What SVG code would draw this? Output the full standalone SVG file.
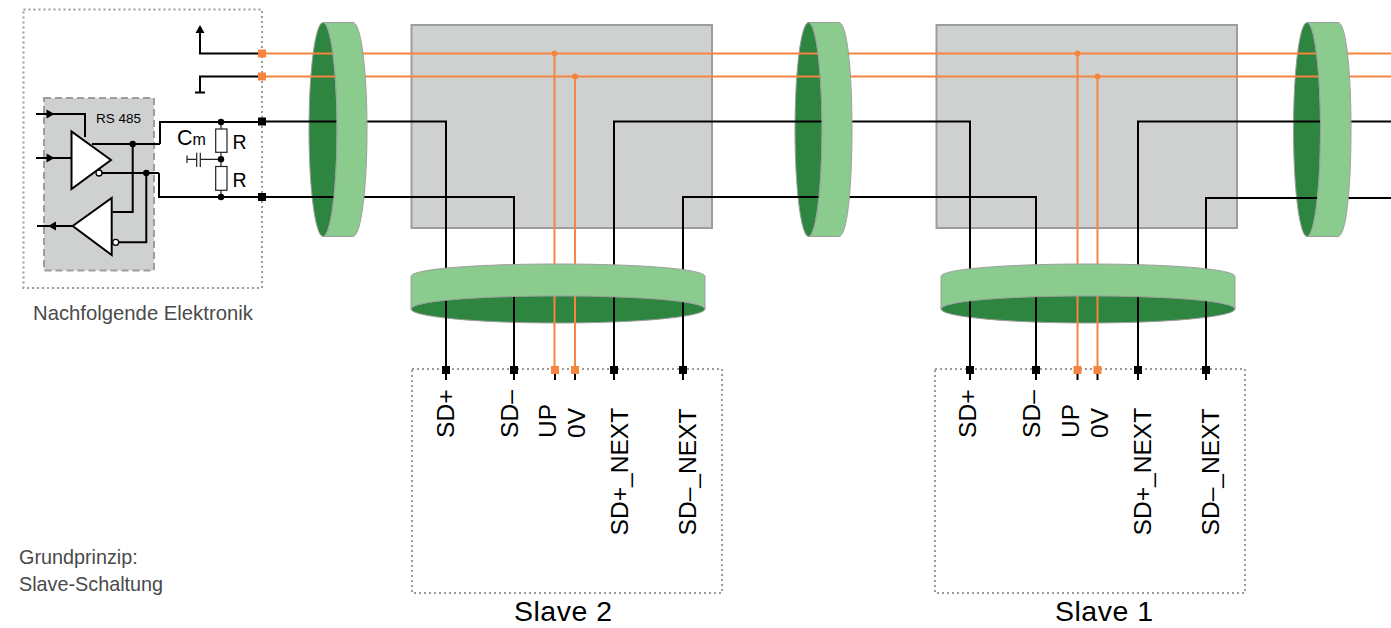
<svg xmlns="http://www.w3.org/2000/svg" width="1391" height="628" viewBox="0 0 1391 628">
<style>
text{font-family:"Liberation Sans",Arial,sans-serif;fill:#000}
.cap{font-size:20.300px;fill:#4a4a4a}
.cap2{font-size:19.800px;fill:#4a4a4a}
.pin{font-size:24.600px}
.title{font-size:28.500px;letter-spacing:.5px}
.dot{fill:none;stroke:#9b9b9b;stroke-width:2;stroke-dasharray:2 3}
.grey{fill:#cfd1d0;stroke:#9c9e9d;stroke-width:2}
.dark{fill:#2d853f;stroke:#9c9e9d;stroke-width:1}
.light{fill:#8ccb8e;stroke:#9c9e9d;stroke-width:1}
.k{fill:none;stroke:#000;stroke-width:2}
.o{fill:none;stroke:#f5853f;stroke-width:2}
.tri{fill:#fff;stroke:#000;stroke-width:2}
.bub{fill:#fff;stroke:#000;stroke-width:1.300}
.fine{fill:none;stroke:#222;stroke-width:1.200}
.res{fill:#fff;stroke:#222;stroke-width:1.200}
.sqk{fill:#000}
.sqo{fill:#f5853f}
</style>
<defs>
<rect id="sk" x="-4" y="-4" width="8" height="8" class="sqk"/>
<rect id="so" x="-4" y="-4" width="8" height="8" class="sqo"/>
<path id="ah-r" d="M-4-4.500L4 0L-4 4.500Z" fill="#000"/>
</defs>

<g id="backplanes">
<rect class="grey" x="411.500" y="25" width="300.500" height="203"/>
<rect class="grey" x="936.500" y="25" width="300.500" height="203"/>
</g>
<g id="cable-backs">
<ellipse class="dark" cx="323" cy="129.500" rx="14" ry="107"/>
<ellipse class="dark" cx="808.500" cy="129.500" rx="13.500" ry="107"/>
<ellipse class="dark" cx="1307" cy="129.500" rx="13.500" ry="107"/>
<ellipse class="dark" cx="558" cy="309" rx="147" ry="14"/>
<ellipse class="dark" cx="1088" cy="309" rx="147" ry="14"/>
</g>

<g id="connectors">
<path class="o" d="M262 53.500H1391M262 76.500H1391"/>
<path class="o" d="M554.500 53.500V370M575 76.500V370M1077.500 53.500V370M1097.500 76.500V370"/>
<path class="k" d="M262 121.500H446V380M160 144V122H262"/>
<path class="k" d="M159 173V197H514V380"/>
<path class="k" d="M614 380V121.500H970V380"/>
<path class="k" d="M683 380V197H1036V380"/>
<path class="k" d="M1138 380V121.500H1391"/>
<path class="k" d="M1206 380V198H1391"/>
<path class="k" d="M555 370V380M575 370V380M1077.500 370V380M1097.500 370V380"/>
<path class="k" d="M262 53.500H200V30M262 76.500H200V92M195 92.500H205"/>
<path d="M200 25L204.500 33H195.500Z" fill="#000"/>
<circle class="sqo" cx="554.500" cy="53.500" r="3"/><circle class="sqo" cx="575" cy="76.500" r="3"/>
<circle class="sqo" cx="1077.500" cy="53.500" r="3"/><circle class="sqo" cx="1097.500" cy="76.500" r="3"/>
</g>

<g id="cable-fronts">
<path class="light" d="M323 22.500H353C361 22.500 367 70 367 129.500S361 236.500 353 236.500H323C331 236.500 337 189 337 129.500S331 22.500 323 22.500Z"/>
<path class="light" d="M808.500 22.500H839C847 22.500 852 70 852 129.500S847 236.500 839 236.500H808.500C816 236.500 822 189 822 129.500S816 22.500 808.500 22.500Z"/>
<path class="light" d="M1307 22.500H1338C1346 22.500 1351 70 1351 129.500S1346 236.500 1338 236.500H1307C1314.500 236.500 1320.500 189 1320.500 129.500S1314.500 22.500 1307 22.500Z"/>
<path class="light" d="M411 276.500C411 269 477 264 558 264S705 269 705 276.500V309C705 301 639 296 558 296S411 301 411 309Z"/>
<path class="light" d="M941 276.500C941 269 1007 264 1088 264S1235 269 1235 276.500V309C1235 301 1169 296 1088 296S941 301 941 309Z"/>
</g>

<g id="elektronik">
<rect class="dot" x="23.500" y="9.500" width="238.500" height="278.500"/>
<rect x="44" y="98" width="110" height="172.500" fill="#cfd1d0" stroke="#9c9e9d" stroke-width="2" stroke-dasharray="7 4"/>
<text x="96" y="123" font-size="13.500" fill="#222">RS 485</text>
<path class="k" d="M36 114H85V137M36 158H72M72 226H37"/>
<use href="#ah-r" transform="translate(50.500 114)"/>
<use href="#ah-r" transform="translate(50.500 158)"/>
<use href="#ah-r" transform="translate(52 226) rotate(180)"/>
<path class="tri" d="M71.500 131.500V189L111 160Z"/>
<path class="tri" d="M111.700 198V255L72.700 226Z"/>
<path class="k" d="M92 144H160M132.700 144V212H112.500M102 173H159M146.300 173V242.300H119"/>
<circle class="bub" cx="99" cy="173" r="3"/>
<circle class="bub" cx="115.700" cy="242.300" r="3"/>
<circle cx="132.700" cy="144" r="3.200"/><circle cx="146.300" cy="173" r="3.200"/>
<path class="fine" d="M221 122V197M221 159.300H200.300M196.700 159.300H187"/>
<path class="fine" d="M196.700 152.700V167M200.300 152.700V167M187 155.500V163"/>
<rect class="res" x="215.700" y="129" width="11.300" height="23.300"/>
<rect class="res" x="215.700" y="166.500" width="11.300" height="23.800"/>
<circle cx="221" cy="122" r="3.200"/><circle cx="221" cy="159.300" r="3.200"/><circle cx="221" cy="197" r="3.200"/>
<text x="177" y="144.500" font-size="21.500" fill="#222">C<tspan font-size="16">m</tspan></text>
<text x="232.500" y="149" font-size="19.500" fill="#222">R</text>
<text x="232.500" y="186.500" font-size="19.500" fill="#222">R</text>
<use href="#so" x="262" y="53.500"/><use href="#so" x="262" y="76.500"/>
<use href="#sk" x="262" y="121.500"/><use href="#sk" x="262" y="197"/>
<text class="cap" x="33" y="320">Nachfolgende Elektronik</text>
</g>

<g id="slave-2">
<rect class="dot" x="412" y="369" width="310" height="224"/>
<use href="#sk" x="446" y="370"/><use href="#sk" x="514" y="370"/><use href="#so" x="555" y="370"/><use href="#so" x="575" y="370"/><use href="#sk" x="614" y="370"/><use href="#sk" x="683" y="370"/>
<text class="pin" transform="translate(453.500 438) rotate(-90)">SD+</text>
<text class="pin" transform="translate(518 438) rotate(-90)">SD–</text>
<text class="pin" transform="translate(556 438) rotate(-90)">UP</text>
<text class="pin" transform="translate(585 438) rotate(-90)">0V</text>
<text class="pin" transform="translate(628 535.500) rotate(-90)">SD+_NEXT</text>
<text class="pin" transform="translate(695.500 535.500) rotate(-90)">SD–_NEXT</text>
<text class="title" x="514" y="621">Slave 2</text>
</g>

<g id="slave-1">
<rect class="dot" x="935" y="369" width="310" height="224"/>
<use href="#sk" x="970" y="370"/><use href="#sk" x="1036" y="370"/><use href="#so" x="1077.500" y="370"/><use href="#so" x="1097.500" y="370"/><use href="#sk" x="1138" y="370"/><use href="#sk" x="1206" y="370"/>
<text class="pin" transform="translate(975.500 438) rotate(-90)">SD+</text>
<text class="pin" transform="translate(1040 438) rotate(-90)">SD–</text>
<text class="pin" transform="translate(1079 438) rotate(-90)">UP</text>
<text class="pin" transform="translate(1108 438) rotate(-90)">0V</text>
<text class="pin" transform="translate(1151 535.500) rotate(-90)">SD+_NEXT</text>
<text class="pin" transform="translate(1219 535.500) rotate(-90)">SD–_NEXT</text>
<text class="title" x="1055" y="621">Slave 1</text>
</g>

<g id="caption">
<text class="cap2" x="19" y="564">Grundprinzip:</text>
<text class="cap2" x="19" y="591">Slave-Schaltung</text>
</g>
</svg>
